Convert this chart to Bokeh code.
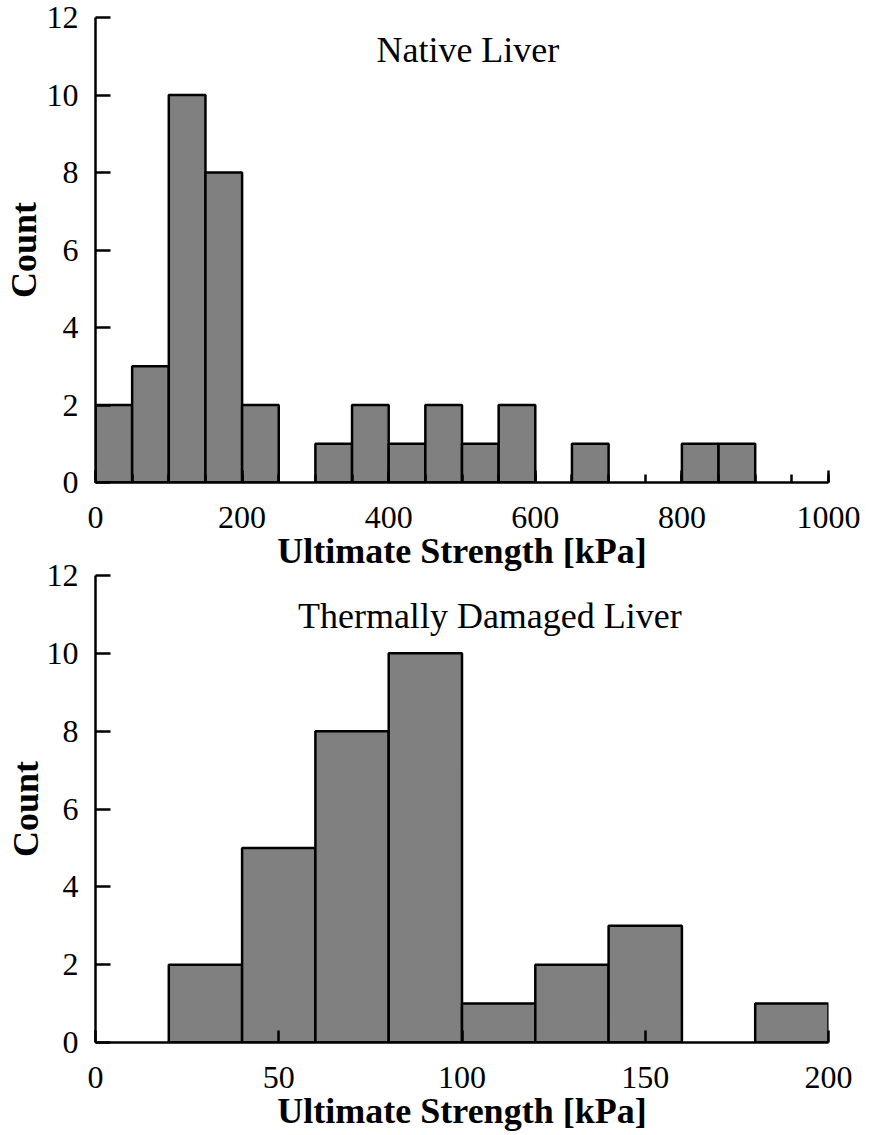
from bokeh.plotting import figure
from bokeh.layouts import column
from bokeh.models import Range1d, FixedTicker, Label
from bokeh.embed import file_html
from bokeh.resources import INLINE

# ---- data ----
native_edges = [0, 50, 100, 150, 200, 250, 300, 350, 400, 450, 500, 550, 600, 650, 700, 750, 800, 850, 900, 950, 1000]
native_counts = [2, 3, 10, 8, 2, 0, 1, 2, 1, 2, 1, 2, 0, 1, 0, 0, 1, 1, 0, 0]

thermal_edges = [0, 20, 40, 60, 80, 100, 120, 140, 160, 180, 200]
thermal_counts = [0, 2, 5, 8, 10, 1, 2, 3, 0, 1]

native_xticks = [0, 200, 400, 600, 800, 1000]
native_minor = list(range(0, 1001, 50))
thermal_xticks = [0, 50, 100, 150, 200]
y_ticks = [0, 2, 4, 6, 8, 10, 12]

FONT = "Liberation Serif"
TICK_SIZE = "32px"
LABEL_SIZE = "36px"


def make_hist(edges, counts, xmax, xticks, minor, title, tx, ty, height, bl, br, bt, bb, ylab_standoff):
    p = figure(width=870, height=height, output_backend="svg", toolbar_location=None,
               x_range=Range1d(0, xmax), y_range=Range1d(0, 12),
               min_border_left=bl, min_border_right=br, min_border_top=bt, min_border_bottom=bb)
    p.outline_line_color = None
    p.grid.visible = False
    p.background_fill_color = "white"
    p.border_fill_color = None

    left = [edges[i] for i in range(len(counts)) if counts[i] > 0]
    right = [edges[i + 1] for i in range(len(counts)) if counts[i] > 0]
    top = [c for c in counts if c > 0]
    p.quad(left=left, right=right, top=top, bottom=0,
           fill_color="#808080", line_color="black", line_width=2.5)

    p.xaxis.ticker = FixedTicker(ticks=xticks, minor_ticks=minor)
    p.yaxis.ticker = FixedTicker(ticks=y_ticks)
    for ax in (p.xaxis[0], p.yaxis[0]):
        ax.axis_line_width = 2.5
        ax.axis_line_color = "black"
        ax.major_tick_line_width = 2.5
        ax.minor_tick_line_width = 2.5
        ax.major_tick_line_color = "black"
        ax.minor_tick_line_color = "black"
        ax.major_tick_out = 0
        ax.minor_tick_out = 0
        ax.major_label_text_font = FONT
        ax.major_label_text_font_size = TICK_SIZE
        ax.major_label_text_color = "black"
        ax.axis_label_text_font = FONT
        ax.axis_label_text_font_size = LABEL_SIZE
        ax.axis_label_text_font_style = "bold"
        ax.axis_label_text_color = "black"
    p.xaxis.major_tick_in = 12
    p.xaxis.minor_tick_in = 8
    p.yaxis.major_tick_in = 15
    p.yaxis.minor_tick_in = 0
    p.yaxis.minor_tick_line_color = None
    p.xaxis.major_label_standoff = 24
    p.yaxis.major_label_standoff = 17
    p.xaxis.axis_label = "Ultimate Strength [kPa]"
    p.yaxis.axis_label = "Count"
    p.xaxis.axis_label_standoff = 0
    p.yaxis.axis_label_standoff = ylab_standoff

    p.add_layout(Label(x=tx, y=ty, text=title, text_align="center", text_baseline="alphabetic",
                       text_font=FONT, text_font_size=LABEL_SIZE, text_color="black"))
    return p


p1 = make_hist(native_edges, native_counts, 1000, native_xticks, native_minor,
               "Native Liver", 508, 11.15, 580, 92, 42, 17, 98, 0)
p2 = make_hist(thermal_edges, thermal_counts, 200, thermal_xticks, [],
               "Thermally Damaged Liver", 107.6, 10.95, 580, 94, 40, 20, 93, -2)
p2.margin = (-25, 0, 0, 0)

layout = column(p1, p2, spacing=0)
open("out.html", "w").write(file_html(layout, INLINE))
